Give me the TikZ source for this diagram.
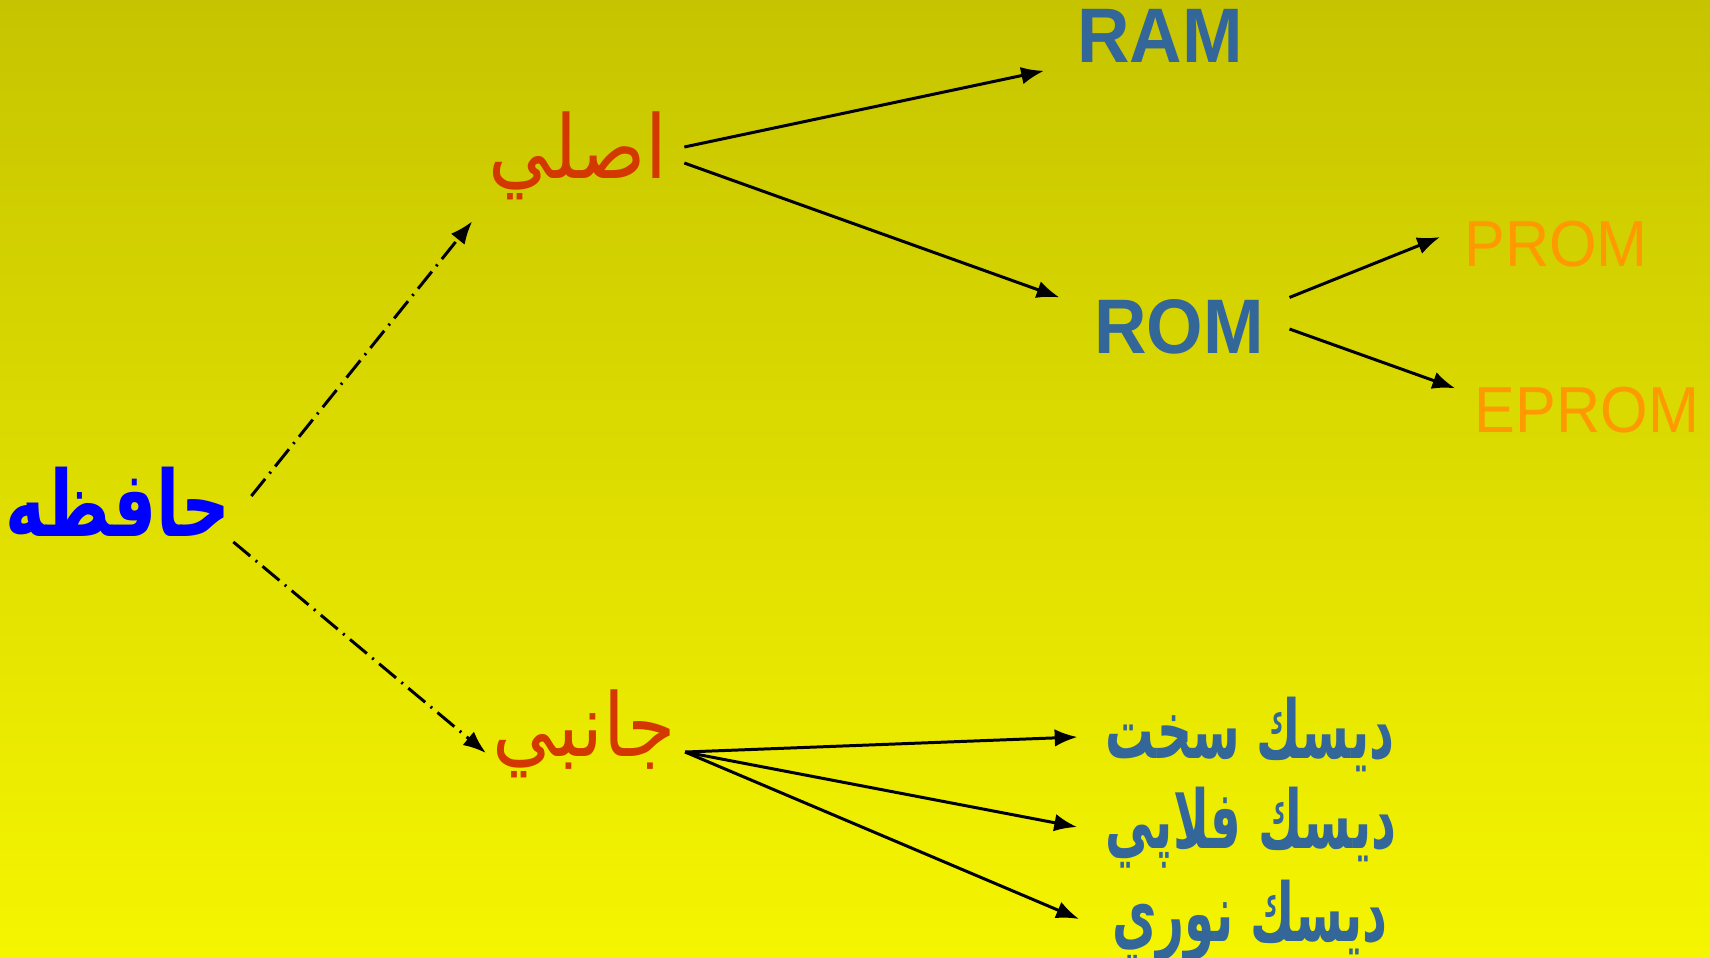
\documentclass[tikz,border=0pt]{standalone}
\usepackage{fontspec}
\usepackage{tikz}
\usetikzlibrary{arrows.meta}
\TeXXeTstate=1
\newfontfamily\rootfont[Script=Arabic,FakeStretch=0.74]{DejaVu Sans}
\newfontfamily\kindfont[Script=Arabic,FakeStretch=0.89]{DejaVu Sans}
\newfontfamily\diskfont[Script=Arabic,FakeStretch=0.6]{DejaVu Sans}
\newfontfamily\latinfont[FakeStretch=0.94]{Liberation Sans}
\definecolor{steelblue}{RGB}{51,102,153}
\definecolor{brick}{RGB}{210,56,0}
\definecolor{amber}{RGB}{255,153,0}
\definecolor{bgtop}{RGB}{198,196,0}
\definecolor{bgbottom}{RGB}{245,245,0}

\begin{document}
\begin{tikzpicture}
[rootnode/.style={inner sep=0pt, text=blue, font=\rootfont\bfseries\fontsize{26}{30}\selectfont},
kindnode/.style={inner sep=0pt, text=brick, font=\kindfont\fontsize{25}{30}\selectfont},
disknode/.style={inner sep=0pt, text=steelblue, font=\diskfont\bfseries\fontsize{23}{28}\selectfont},
chipnode/.style={inner sep=0pt, text=steelblue, font=\latinfont\bfseries\fontsize{22}{26}\selectfont},
romnode/.style={inner sep=0pt, text=amber, font=\latinfont\fontsize{18.5}{22}\selectfont},
solidarrow/.style={-{Latex[length=6.5pt,width=5pt]}, line width=0.85pt},
dotarrow/.style={-{Latex[length=6.5pt,width=5pt]}, line width=0.85pt, dash pattern=on 2.2mm off 0.7mm on 0.2mm off 0.7mm},
]
\shade[top color=bgtop, bottom color=bgbottom] (0,0) rectangle (17.1,-9.57);
\useasboundingbox (0,0) rectangle (17.1,-9.57);

\node[rootnode]	(hafeze) at (1.18,-5.02) {\beginR حافظه\endR};
\node[kindnode]	(asli) at (5.78,-1.555) {\beginR اصلي\endR};
\node[kindnode]	(janebi) at (5.84,-7.34) {\beginR جانبي\endR};
\node[chipnode]	(RAM) at (11.60,-0.36) {RAM};
\node[chipnode]	(ROM) at (11.79,-3.27) {ROM};
\node[romnode]	(PROM) at (15.56,-2.44) {PROM};
\node[romnode]	(EPROM) at (15.87,-4.10) {EPROM};
\node[disknode]	(sakht) at (12.50,-7.34) {\beginR ديسك سخت\endR};
\node[disknode]	(floppy) at (12.51,-8.28) {\beginR ديسك فلاپي\endR};
\node[disknode]	(nouri) at (12.50,-9.21) {\beginR ديسك نوري\endR};

\draw[dotarrow] ([shift={(0.2,0.06)}]hafeze.east) -- ([shift={(-0.155,-0.21)}]asli.south west);
\draw[dotarrow] ([shift={(0.02,-0.045)}]hafeze.south east) -- ([shift={(-0.06,-0.19)}]janebi.west);
\draw[solidarrow] ([shift={(0.16,0.085)}]asli.east) -- ([shift={(-0.325,-0.075)}]RAM.south west);
\draw[solidarrow] ([shift={(0.16,-0.075)}]asli.east) -- ([shift={(-0.34,0.015)}]ROM.north west);
\draw[solidarrow] ([shift={(0.25,0.015)}]ROM.north east) -- ([shift={(-0.235,0.07)}]PROM.west);
\draw[solidarrow] ([shift={(0.25,-0.02)}]ROM.east) -- ([shift={(-0.19,-0.02)}]EPROM.north west);
\draw[solidarrow] ([shift={(0.09,-0.18)}]janebi.east) -- ([shift={(-0.275,-0.03)}]sakht.west);
\draw[solidarrow] ([shift={(0.09,-0.18)}]janebi.east) -- ([shift={(-0.28,0.01)}]floppy.west);
\draw[solidarrow] ([shift={(0.09,-0.18)}]janebi.east) -- ([shift={(-0.325,0.02)}]nouri.west);
\end{tikzpicture}
\end{document}
